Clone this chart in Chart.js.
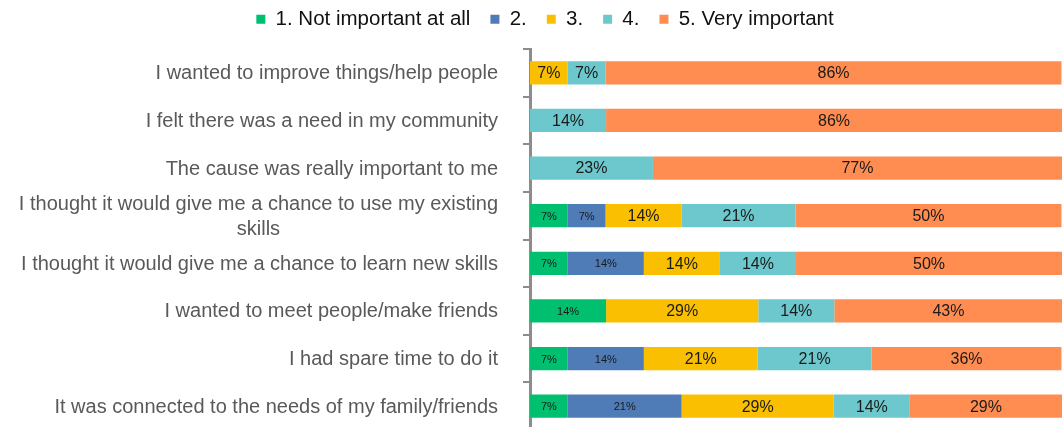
<!DOCTYPE html>
<html>
<head>
<meta charset="utf-8">
<script src="https://cdn.jsdelivr.net/npm/chart.js@4.4.1/dist/chart.umd.min.js"></script>
<style>
html,body{margin:0;padding:0;background:#fff;overflow:hidden;}
#wrap{width:1062px;height:432px;position:relative;}
</style>
</head>
<body>
<div id="wrap"><canvas id="chart"></canvas></div>
<script>
// categories (top to bottom)
const reasons=[
  "I wanted to improve things/help people",
  "I felt there was a need in my community",
  "The cause was really important to me",
  ["I thought it would give me a chance to use my existing","skills"],
  "I thought it would give me a chance to learn new skills",
  "I wanted to meet people/make friends",
  "I had spare time to do it",
  "It was connected to the needs of my family/friends"
];
const levels=["1. Not important at all","2.","3.","4.","5. Very important"];
const colors=["#00BF6F","#4F7BB6","#F9BF00","#6CC8CC","#FF8C50"];

// share of respondents per level (%)
const notImportant=[0,0,0,7.1,7.1,14.3,7.1,7.1];
const level2=[0,0,0,7.1,14.3,0,14.3,21.4];
const level3=[7.1,0,0,14.3,14.3,28.6,21.4,28.6];
const level4=[7.1,14.3,23.1,21.4,14.3,14.3,21.4,14.3];
const veryImportant=[85.7,85.7,76.9,50,50,42.9,35.7,28.6];
const series=[notImportant,level2,level3,level4,veryImportant];

const FONT="'Liberation Sans', Arial, sans-serif";
const LABEL_X=498;
const LEFT_PAD=28; // pushes the centred legend right, like the original

// value labels in the middle of each segment
const segLabels={
  id:"segLabels",
  afterDatasetsDraw(chart){
    const ctx=chart.ctx;
    ctx.save();
    ctx.textAlign="center"; ctx.textBaseline="middle"; ctx.fillStyle="#1a1a1a";
    chart.data.datasets.forEach((ds,i)=>{
      const meta=chart.getDatasetMeta(i);
      ctx.font=(i<2?"11px ":"16px ")+FONT;
      meta.data.forEach((bar,j)=>{
        const v=ds.data[j];
        if(!v) return;
        ctx.fillText(Math.round(v)+"%",(bar.x+bar.base)/2,bar.y+1);
      });
    });
    ctx.restore();
  }
};

// category labels: right aligned, wrapped lines centred on each other
const catLabels={
  id:"catLabels",
  afterDraw(chart){
    const ctx=chart.ctx, y=chart.scales.y;
    ctx.save();
    ctx.font="20px "+FONT; ctx.fillStyle="#595959"; ctx.textBaseline="middle"; ctx.textAlign="center";
    reasons.forEach((lab,i)=>{
      const lines=Array.isArray(lab)?lab:[lab];
      const w=Math.max(...lines.map(l=>ctx.measureText(l).width));
      const cx=LABEL_X-w/2, lh=25;
      const yc=y.getPixelForValue(i);
      lines.forEach((l,k)=>ctx.fillText(l,cx,yc+(k-(lines.length-1)/2)*lh+1));
    });
    ctx.restore();
  }
};

new Chart(document.getElementById("chart"),{
  type:"bar",
  data:{
    labels:reasons,
    datasets:series.map((d,i)=>({label:levels[i],data:d,backgroundColor:colors[i],borderWidth:0,barPercentage:0.49,categoryPercentage:1}))
  },
  options:{
    indexAxis:"y",
    responsive:true,maintainAspectRatio:false,animation:false,
    layout:{padding:{top:-11,bottom:2,left:LEFT_PAD,right:0}},
    plugins:{
      legend:{position:"top",labels:{boxWidth:9,boxHeight:9,padding:20,color:"#111",font:{family:FONT,size:20.5}}},
      tooltip:{enabled:false}
    },
    scales:{
      x:{stacked:true,min:0,max:100,position:"top",display:true,
        ticks:{display:false},grid:{display:false},border:{display:false},
        afterFit(s){s.height=9.5;}},
      y:{stacked:true,
        grid:{offset:true,drawOnChartArea:false,drawTicks:true,tickLength:7,color:"#8c8c8c",lineWidth:2},
        border:{display:true,color:"#8c8c8c",width:3},
        ticks:{display:false},
        afterFit(s){s.width=530-LEFT_PAD;}
      }
    }
  },
  plugins:[segLabels,catLabels]
});
</script>
</body>
</html>
